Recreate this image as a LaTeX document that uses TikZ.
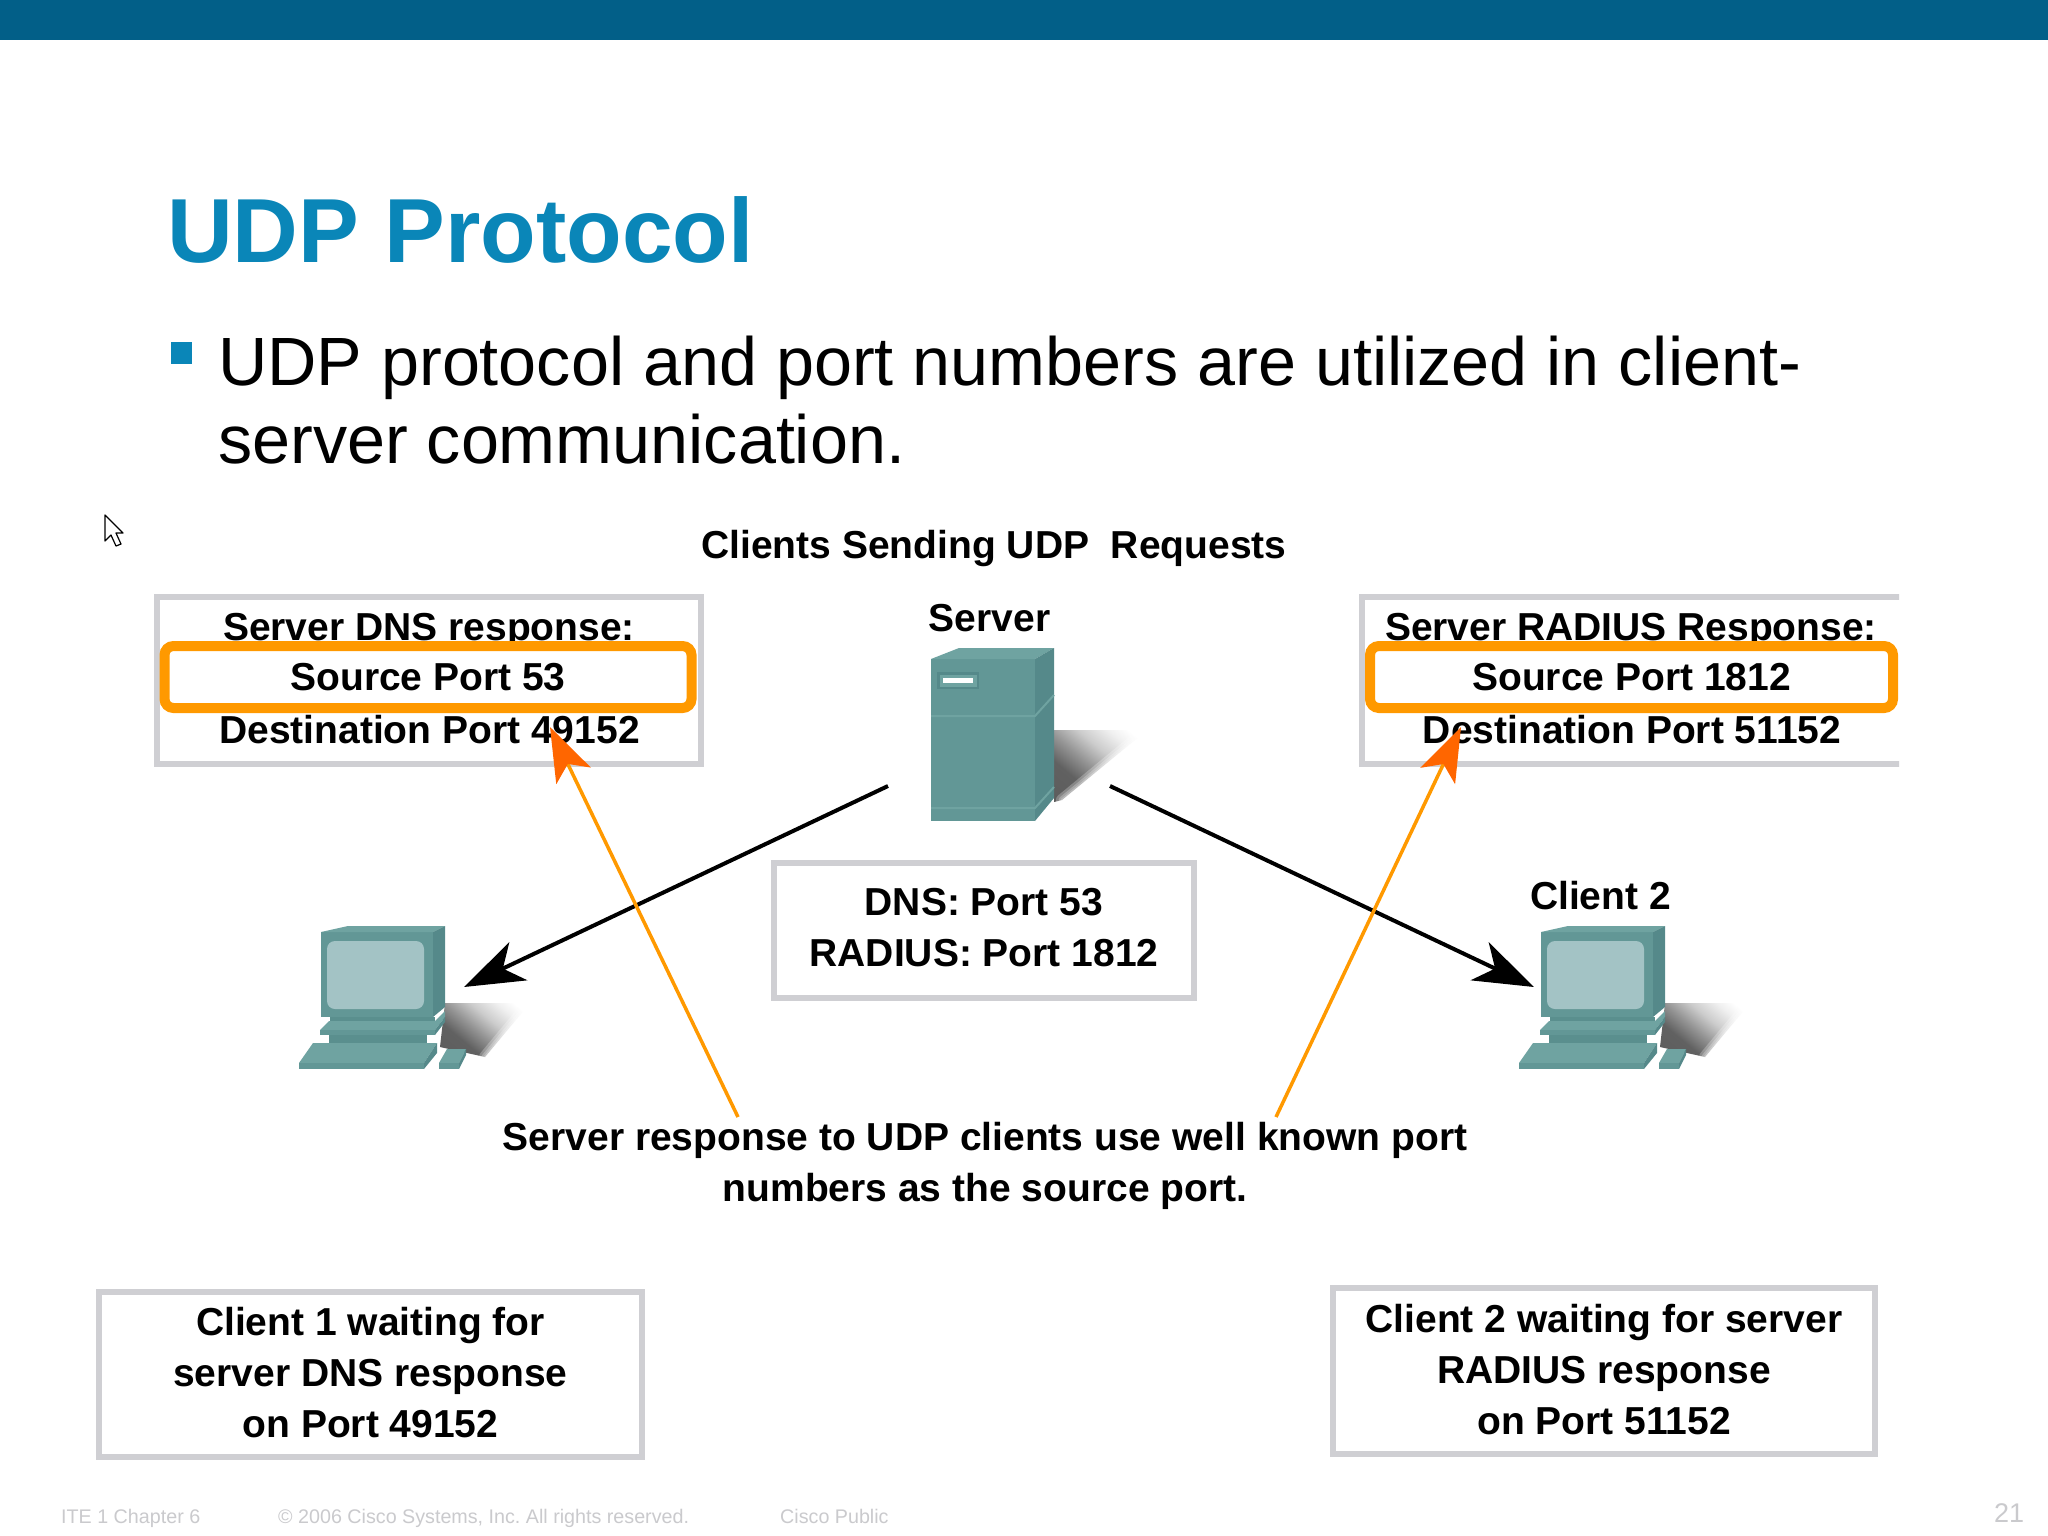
\documentclass[tikz,border=0pt]{standalone}
\usepackage{fontspec}
\setmainfont{Liberation Sans}
\usetikzlibrary{arrows.meta}
\definecolor{ciscobar}{HTML}{025F88}
\definecolor{ciscoblue}{HTML}{0A86B8}
\definecolor{boxgray}{HTML}{CFCFD3}
\definecolor{hilite}{HTML}{FF9900}
\definecolor{tipor}{HTML}{FF6600}
\definecolor{foot}{HTML}{CACACD}
\definecolor{devfront}{HTML}{629796}
\definecolor{devtop}{HTML}{6FA3A1}
\definecolor{devside}{HTML}{55898A}
\definecolor{devdark}{HTML}{5A8F8E}
\definecolor{devscreen}{HTML}{A3C3C5}
\pgfdeclarehorizontalshading{softshadow}{100bp}{color(0bp)=(black!65); color(34bp)=(black!62); color(46bp)=(black!42); color(58bp)=(black!20); color(70bp)=(black!6); color(78bp)=(white); color(100bp)=(white)}
\tikzset{
  txt/.style={font=\fontsize{39}{51}\selectfont\bfseries,align=center,inner sep=0pt,text=black},
  base/.style={txt,anchor=base},
  graybox/.style={draw=boxgray,line width=6pt,fill=white,inner sep=0pt},
  orbox/.style={draw=hilite,line width=10pt,fill=white,rounded corners=9pt,inner sep=0pt,txt,text depth=0pt},
  reqarrow/.style={line width=4pt,-{Stealth[length=60pt,width=42pt,inset=17pt]}},
  resparrow/.style={hilite,line width=3.5pt,-{Stealth[length=54pt,width=38pt,inset=13pt,color=tipor]}},
  foottxt/.style={font=\fontsize{19.7}{24}\selectfont,text=foot,anchor=base west,inner sep=0pt},
  front/.style={fill=devfront},
  top/.style={fill=devtop},
  side/.style={fill=devside},
  dark/.style={fill=devdark},
  shadow/.style={shading=softshadow,shading angle=50},
  softedge/.style={white,opacity=.25,line cap=round},
  pcicon/.pic={
    \shade[shadow] (175,103) -- (260,103) -- (215,157) -- (170,147) -- cycle;
    \foreach \w in {12,7,3} \draw[softedge,line width=\w pt] (260,103) -- (215,157);
    \fill[front] (51,32) rectangle (163,117);
    \fill[top] (51,32) -- (78,26) -- (175,26) -- (163,32) -- cycle;
    \fill[side] (163,32) -- (175,26) -- (175,107) -- (163,117) -- cycle;
    \fill[devscreen,rounded corners=8pt] (57,41) rectangle (154,109);
    \fill[dark] (60,117) rectangle (165,122);
    \fill[top] (50,130) -- (59,121) -- (165,121) -- (175,111) -- (175,117) -- (165,130) -- cycle;
    \fill[front] (50,130) rectangle (165,135);
    \fill[side] (165,130) -- (175,117) -- (175,122) -- (165,135) -- cycle;
    \fill[dark] (59,135) rectangle (157,143);
    \fill[top] (29,163) -- (43,143) -- (167,143) -- (154,163) -- cycle;
    \fill[front] (29,163) rectangle (154,169);
    \fill[side] (154,163) -- (167,143) -- (167,153) -- (154,169) -- cycle;
    \fill[top] (169,163) -- (177,149) -- (196,149) -- (189,163) -- cycle;
    \fill[front] (169,163) rectangle (189,169);
    \fill[side] (189,163) -- (196,149) -- (196,155) -- (189,169) -- cycle;
  },
  servericon/.pic={
    \shade[shadow] (1054,730) -- (1147,730) -- (1062,800) -- (1054,802) -- cycle;
    \foreach \w in {12,7,3} \draw[softedge,line width=\w pt] (1147,730) -- (1062,800);
    \fill[front] (931,659) rectangle (1035,821);
    \fill[top] (931,659) -- (959,648) -- (1054,648) -- (1035,659) -- cycle;
    \fill[side] (1035,659) -- (1054,648) -- (1054,798) -- (1035,821) -- cycle;
    \draw[devtop,line width=2pt] (931,716) -- (1035,716) -- (1054,695);
    \draw[devtop,line width=2pt] (931,808) -- (1035,808) -- (1054,787);
    \fill[devside] (937,672) rectangle (979,689);
    \fill[devtop] (940,675) rectangle (977,687);
    \fill[white] (943,678) rectangle (973,683);
  }
}
\begin{document}
\frenchspacing
\begin{tikzpicture}[x=1pt,y=-1pt]
\useasboundingbox (0,0) rectangle (2048,1536);
\fill[white] (0,0) rectangle (2048,1536);
\fill[ciscobar] (0,0) rectangle (2048,40);

% slide title and bullet
\node[anchor=base west,inner sep=0pt,text=ciscoblue,font=\fontsize{91}{100}\selectfont\bfseries] (title) at (167,262) {UDP Protocol};
\fill[ciscoblue] (171,342) rectangle (192,364);
\node[anchor=base west,inner sep=0pt,font=\fontsize{68.3}{78}\selectfont] (line1) at (218,385) {UDP protocol and port numbers are utilized in client-};
\node[anchor=base west,inner sep=0pt,font=\fontsize{68.3}{78}\selectfont] (line2) at (218,463) {server communication.};

% mouse pointer
\draw[black,fill=white,line width=1.2pt,line join=round] (105,515) -- (105,541) -- (111,535) -- (116,546) -- (121,544) -- (116,533) -- (123,533) -- cycle;

\node[base] (head) at (994,558) {Clients Sending UDP\ \ Requests};

% DNS side
\node[graybox,minimum width=544pt,minimum height=167pt] (dnsbox) at (428.5,680) {};
\node[base] (dnsa) at (429,640) {Server DNS response:};
\node[orbox,minimum width=527pt,minimum height=62pt] (dnsport) at (428,677) {Source Port 53};
\node[base] (dnsb) at (429.5,743) {Destination Port 49152};

% RADIUS side, cut off at the right
\begin{scope}
\clip (0,0) rectangle (1899,1536);
\node[graybox,minimum width=557pt,minimum height=167pt] (radbox) at (1640,680) {};
\node[base] (rada) at (1631,640) {Server RADIUS Response:};
\node[orbox,minimum width=523pt,minimum height=62pt] (radport) at (1631.5,677) {Source Port 1812};
\end{scope}
\node[base] (radb) at (1632,743) {Destination Port 51152};

\node[base] (srvlabel) at (989.5,631) {Server};
\pic (srv) at (0,0) {servericon};
\node[base] (c2label) at (1600.5,909) {Client 2};

\pic (pc1) at (270,900) {pcicon};
\pic (pc2) at (1490,900) {pcicon};

\node[graybox,minimum width=420.5pt,minimum height=135pt] (ports) at (984,930) {};
\node[txt,yshift=2.6pt] (portstxt) at (ports) {DNS: Port 53\\RADIUS: Port 1812};

\node[txt] (note) at (985,1166) {Server response to UDP clients use well known port\\numbers as the source port.};

\node[graybox,minimum width=543.5pt,minimum height=165.5pt] (wait1) at (370.5,1374.5) {};
\node[txt,yshift=1.8pt] (wait1txt) at (wait1) {Client 1 waiting for\\server DNS response\\on Port 49152};
\node[graybox,minimum width=542.5pt,minimum height=166.5pt] (wait2) at (1604,1371) {};
\node[txt,yshift=1pt] (wait2txt) at (wait2) {Client 2 waiting for server\\RADIUS response\\on Port 51152};

% connectors
\coordinate (s1) at (888,786);
\coordinate (s2) at (1110,786);
\coordinate (c1) at (464,987);
\coordinate (c2) at (1534,987);
\draw[reqarrow] (s1) -- (c1);
\draw[reqarrow] (s2) -- (c2);

\coordinate (n1) at (738,1117);
\coordinate (n2) at (1276,1117);
\coordinate (d1) at (550,727);
\coordinate (d2) at (1461,727);
\draw[resparrow] (n1) -- (d1);
\draw[resparrow] (n2) -- (d2);

% footer
\node[foottxt] (f1) at (61,1523) {ITE 1 Chapter 6};
\node[foottxt] (f2) at (278,1523) {© 2006 Cisco Systems, Inc. All rights reserved.};
\node[foottxt] (f3) at (780,1523) {Cisco Public};
\node[foottxt,font=\fontsize{27}{30}\selectfont] (f4) at (1994,1522) {21};
\end{tikzpicture}
\end{document}
